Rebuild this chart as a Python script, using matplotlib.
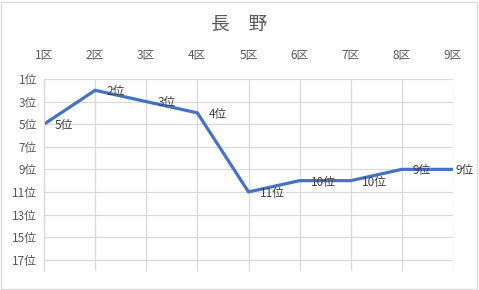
import matplotlib.pyplot as plt
from matplotlib.patches import Rectangle

plt.rcParams['font.family'] = ['Noto Sans CJK JP', 'DejaVu Sans']

# 区間ごとの順位
sections = ['1区', '2区', '3区', '4区', '5区', '6区', '7区', '8区', '9区']
ranks = [5, 2, 3, 4, 11, 10, 10, 9, 9]
rank_ticks = [1, 3, 5, 7, 9, 11, 13, 15, 17]

text_color = '#595959'
grid_color = '#D9D9D9'

fig = plt.figure(figsize=(4.79, 2.90), dpi=100)
ax = fig.add_axes([44 / 479, 1 - 271 / 290, (453 - 44) / 479, (271 - 79) / 290])

x = list(range(len(sections)))
ax.plot(x, ranks, color='#4472C4', linewidth=2.3, solid_joinstyle='miter')

# データラベル（点の右側、最後の区は枠内に収める）
for xi, r in zip(x, ranks):
    dx = 1.5 if xi == x[-1] else 8
    ax.annotate(f'{r}位', (xi, r), xytext=(dx, -1), textcoords='offset points',
                ha='left', va='center', fontsize=8.5, color='#404040')

ax.set_xlim(0, len(sections) - 1)
ax.set_ylim(18, 1)
ax.set_xticks(x)
ax.set_xticklabels(sections)
ax.set_yticks(rank_ticks)
ax.set_yticklabels([f'{t}位' for t in rank_ticks])
ax.xaxis.tick_top()
ax.tick_params(axis='x', length=0, pad=12, labelsize=8.5, labelcolor=text_color)
ax.tick_params(axis='y', length=0, pad=5, labelsize=8.5, labelcolor=text_color)

ax.grid(True, color=grid_color, linewidth=0.9)
ax.set_axisbelow(True)
for side in ['top', 'bottom', 'right']:
    ax.spines[side].set_visible(False)
ax.spines['left'].set_color(grid_color)
ax.spines['left'].set_linewidth(0.9)

fig.text(0.5, 1 - 24 / 290, '長\u3000野', ha='center', va='center',
         fontsize=13.5, color=text_color)

# グラフ全体の枠
fig.patches.append(Rectangle((1 / 479, 1 / 290), 476 / 479, 287 / 290,
                             transform=fig.transFigure, fill=False,
                             edgecolor='#D9D9D9', linewidth=0.9))

fig.savefig('out.png', dpi=100)
